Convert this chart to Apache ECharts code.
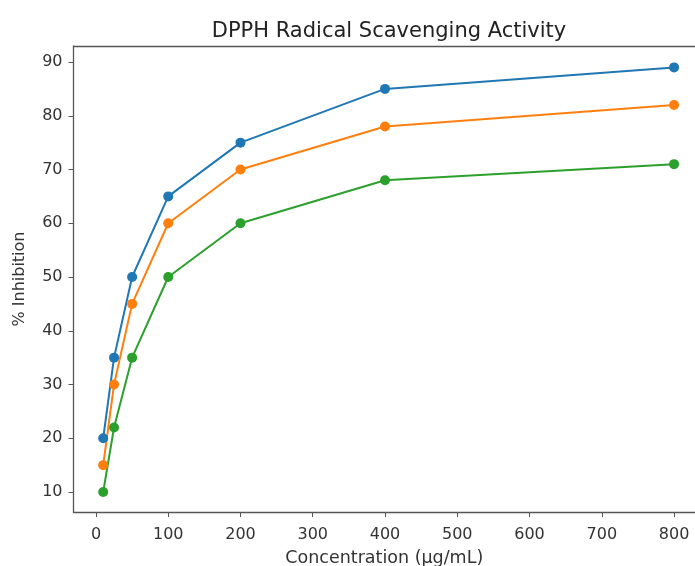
<!DOCTYPE html>
<html>
<head>
<meta charset="utf-8">
<script src="https://cdn.jsdelivr.net/npm/echarts@6/dist/echarts.min.js"></script>
<style>
  html, body { margin: 0; padding: 0; background: #fff; }
  #chart { width: 695px; height: 566px; }
</style>
</head>
<body>
<div id="chart"></div>
<script>
// concentrations (ug/mL)
var concentrations = [10, 25, 50, 100, 200, 400, 800];
// % inhibition for each sample
var seriesA = [20, 35, 50, 65, 75, 85, 89];
var seriesB = [15, 30, 45, 60, 70, 78, 82];
var seriesC = [10, 22, 35, 50, 60, 68, 71];
var xTicks = [0, 100, 200, 300, 400, 500, 600, 700, 800];
var yTicks = [10, 20, 30, 40, 50, 60, 70, 80, 90];

function pairs(ys) {
    return concentrations.map(function (x, i) { return [x, ys[i]]; });
}

var font = 'DejaVu Sans';
var textColor = '#333';
var spine = '#555';
var xMin = -31.1, xMax = 829;

function makeSeries(data, color) {
    return {
        type: 'line',
        data: pairs(data),
        symbol: 'circle',
        symbolSize: 10,
        lineStyle: {color: color, width: 2},
        itemStyle: {color: color},
        z: 3
    };
}

var chart = echarts.init(document.getElementById('chart'));
chart.setOption({
    animation: false,
    backgroundColor: '#fff',
    title: {
        text: 'DPPH Radical Scavenging Activity',
        left: 384,
        top: 16,
        textAlign: 'center',
        textStyle: {fontFamily: font, fontSize: 21, fontWeight: 'normal', color: '#222'}
    },
    grid: {
        left: 73.5,
        right: 0,
        top: 46,
        bottom: 54,
        outerBoundsMode: 'none'
    },
    xAxis: [{
        type: 'value',
        min: xMin,
        max: xMax,
        name: 'Concentration (μg/mL)',
        nameLocation: 'middle',
        nameGap: 37,
        nameTextStyle: {fontFamily: font, fontSize: 17.5, color: textColor},
        axisLine: {show: true, onZero: false, lineStyle: {color: spine, width: 1.3}},
        axisTick: {show: true, length: 5, customValues: xTicks, lineStyle: {color: spine}},
        axisLabel: {customValues: xTicks, fontFamily: font, fontSize: 16, color: textColor, margin: 15},
        splitLine: {show: false}
    }, {
        // top spine only
        type: 'value',
        position: 'top',
        min: xMin,
        max: xMax,
        axisLine: {show: true, onZero: false, lineStyle: {color: spine, width: 1.3}},
        axisTick: {show: false},
        axisLabel: {show: false},
        splitLine: {show: false}
    }],
    yAxis: {
        type: 'value',
        min: 6.28,
        max: 92.98,
        name: '% Inhibition',
        nameLocation: 'middle',
        nameGap: 46,
        nameTextStyle: {fontFamily: font, fontSize: 16, color: textColor},
        axisLine: {show: true, onZero: false, lineStyle: {color: spine, width: 1.3}},
        axisTick: {show: true, length: 5, customValues: yTicks, lineStyle: {color: spine}},
        axisLabel: {customValues: yTicks, fontFamily: font, fontSize: 16, color: textColor, margin: 11},
        splitLine: {show: false}
    },
    series: [
        makeSeries(seriesA, '#1f77b4'),
        makeSeries(seriesB, '#ff7f0e'),
        makeSeries(seriesC, '#2ca02c')
    ]
});
</script>
</body>
</html>
